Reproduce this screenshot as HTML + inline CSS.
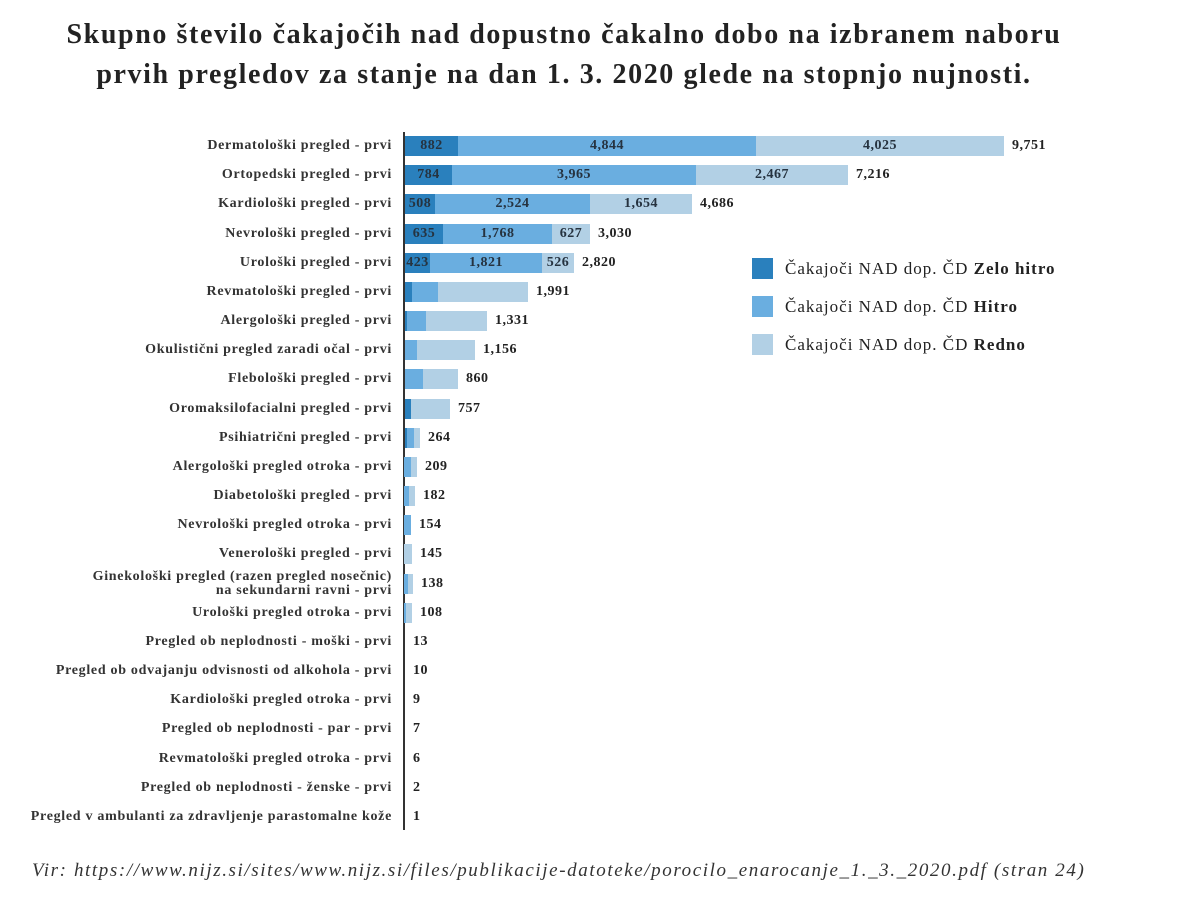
<!DOCTYPE html>
<html><head><meta charset="utf-8">
<style>
body{margin:0;width:1204px;height:916px;background:#fff;position:relative;overflow:hidden;font-family:"Liberation Serif",serif;color:#222}
.t{position:absolute;left:0;width:1128px;text-align:center;font-weight:bold;font-size:28px;letter-spacing:1.6px;color:#222}
.lab{position:absolute;right:812px;font-size:14px;letter-spacing:0.7px;font-weight:bold;color:#333;text-align:right;white-space:nowrap;line-height:14px}
.seg{position:absolute;height:20px}
.in{position:absolute;font-size:14px;letter-spacing:0.5px;font-weight:bold;color:#263340;text-align:center;line-height:20px}
.val{position:absolute;font-size:14px;letter-spacing:0.5px;font-weight:bold;color:#222;line-height:20px}
.lg{position:absolute;left:752px;width:21px;height:21px}
.lt{position:absolute;left:785px;font-size:17px;letter-spacing:1px;color:#222;line-height:21px}
</style></head><body>
<div class="t" style="top:19px">Skupno število čakajočih nad dopustno čakalno dobo na izbranem naboru</div>
<div class="t" style="top:59px">prvih pregledov za stanje na dan 1. 3. 2020 glede na stopnjo nujnosti.</div>
<div style="position:absolute;left:403px;top:132px;width:2px;height:698px;background:#333"></div>
<div id="c"></div>
<div class="lg" style="top:258px;background:#2a80bd"></div><div class="lt" style="top:258px">Čakajoči NAD dop. ČD <b>Zelo hitro</b></div>
<div class="lg" style="top:296px;background:#6aaee0"></div><div class="lt" style="top:296px">Čakajoči NAD dop. ČD <b>Hitro</b></div>
<div class="lg" style="top:334px;background:#b2d0e5"></div><div class="lt" style="top:334px">Čakajoči NAD dop. ČD <b>Redno</b></div>
<div style="position:absolute;left:32px;top:860px;font-size:19px;letter-spacing:1.6px;font-style:italic;color:#333">Vir: https://www.nijz.si/sites/www.nijz.si/files/publikacije-datoteke/porocilo_enarocanje_1._3._2020.pdf (stran 24)</div>
<script>
var rows=[
["Dermatološki pregled - prvi",458,756,1004,"9,751",["882","4,844","4,025"]],
["Ortopedski pregled - prvi",452,696,848,"7,216",["784","3,965","2,467"]],
["Kardiološki pregled - prvi",435,590,692,"4,686",["508","2,524","1,654"]],
["Nevrološki pregled - prvi",443,552,590,"3,030",["635","1,768","627"]],
["Urološki pregled - prvi",430,542,574,"2,820",["423","1,821","526"]],
["Revmatološki pregled - prvi",412,438,528,"1,991"],
["Alergološki pregled - prvi",407,426,487,"1,331"],
["Okulistični pregled zaradi očal - prvi",405,417,475,"1,156"],
["Flebološki pregled - prvi",405,423,458,"860"],
["Oromaksilofacialni pregled - prvi",411,411,450,"757"],
["Psihiatrični pregled - prvi",407,414,420,"264"],
["Alergološki pregled otroka - prvi",404,411,417,"209"],
["Diabetološki pregled - prvi",404,409,415,"182"],
["Nevrološki pregled otroka - prvi",404,411,411,"154"],
["Venerološki pregled - prvi",404,404,412,"145"],
["Ginekološki pregled (razen pregled nosečnic)<br>na sekundarni ravni - prvi",404,408,413,"138"],
["Urološki pregled otroka - prvi",404,406,412,"108"],
["Pregled ob neplodnosti - moški - prvi",405,405,405,"13"],
["Pregled ob odvajanju odvisnosti od alkohola - prvi",405,405,405,"10"],
["Kardiološki pregled otroka - prvi",405,405,405,"9"],
["Pregled ob neplodnosti - par - prvi",405,405,405,"7"],
["Revmatološki pregled otroka - prvi",405,405,405,"6"],
["Pregled ob neplodnosti - ženske - prvi",405,405,405,"2"],
["Pregled v ambulanti za zdravljenje parastomalne kože",405,405,405,"1"]];
var h="",cols=["#2a80bd","#6aaee0","#b2d0e5"];
rows.forEach(function(r,i){
 var cy=146+i*29.17, top=cy-10;
 var two=r[0].indexOf("<br>")>=0;
 h+='<div class="lab" style="top:'+(two?cy-14:cy-7)+'px">'+r[0]+'</div>';
 var xs=[405,r[1],r[2],r[3]];
 for(var k=0;k<3;k++){ if(xs[k+1]>xs[k]){
  h+='<div class="seg" style="left:'+xs[k]+'px;top:'+top+'px;width:'+(xs[k+1]-xs[k])+'px;background:'+cols[k]+'"></div>';
  if(r[5]) h+='<div class="in" style="left:'+xs[k]+'px;top:'+top+'px;width:'+(xs[k+1]-xs[k])+'px">'+r[5][k]+'</div>';
 }}
 h+='<div class="val" style="left:'+(r[3]+8)+'px;top:'+top+'px">'+r[4]+'</div>';
});
document.getElementById("c").innerHTML=h;
</script>
</body></html>
